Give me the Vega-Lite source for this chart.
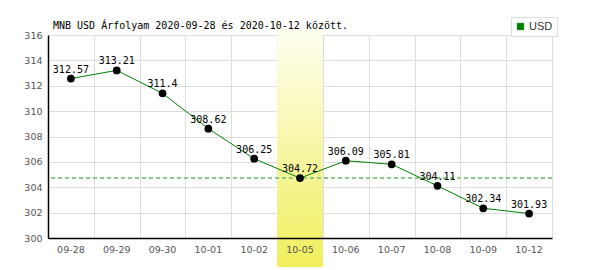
{
  "$schema": "https://vega.github.io/schema/vega-lite/v6.json",
  "width": 504,
  "height": 203,
  "autosize": "none",
  "padding": {"left": 48, "top": 35, "right": 48, "bottom": 32},
  "background": "white",
  "title": {
    "text": "MNB USD Árfolyam 2020-09-28 és 2020-10-12 között.",
    "anchor": "start",
    "frame": "group",
    "font": "DejaVu Sans Mono",
    "fontSize": 10,
    "fontWeight": "normal",
    "color": "#000000",
    "baseline": "alphabetic",
    "dx": 5,
    "offset": -22
  },
  "config": {"view": {"stroke": null}},
  "data": {
    "values": [
      {"date": "09-28", "rate": 312.57, "currency": "USD"},
      {"date": "09-29", "rate": 313.21, "currency": "USD"},
      {"date": "09-30", "rate": 311.4, "currency": "USD"},
      {"date": "10-01", "rate": 308.62, "currency": "USD"},
      {"date": "10-02", "rate": 306.25, "currency": "USD"},
      {"date": "10-05", "rate": 304.72, "currency": "USD"},
      {"date": "10-06", "rate": 306.09, "currency": "USD"},
      {"date": "10-07", "rate": 305.81, "currency": "USD"},
      {"date": "10-08", "rate": 304.11, "currency": "USD"},
      {"date": "10-09", "rate": 302.34, "currency": "USD"},
      {"date": "10-12", "rate": 301.93, "currency": "USD"}
    ]
  },
  "resolve": {"axis": {"x": "independent", "y": "independent"}},
  "layer": [
    {
      "transform": [{"filter": "datum.date == '10-05'"}],
      "mark": {
        "type": "rect",
        "clip": false,
        "color": {
          "gradient": "linear",
          "x1": 0, "y1": 0, "x2": 0, "y2": 1,
          "stops": [
            {"offset": 0, "color": "#fffff2"},
            {"offset": 1, "color": "#f0ee5c"}
          ]
        }
      },
      "encoding": {
        "x": {
          "field": "date",
          "type": "ordinal",
          "sort": null,
          "scale": {
            "domain": ["09-28", "09-29", "09-30", "10-01", "10-02", "10-05", "10-06", "10-07", "10-08", "10-09", "10-12"],
            "paddingInner": 0,
            "paddingOuter": 0
          },
          "axis": {
            "orient": "bottom",
            "title": null,
            "grid": true,
            "gridColor": "#dddddd",
            "gridWidth": 1,
            "labels": false,
            "ticks": false,
            "domain": false,
            "tickBand": "extent",
            "zindex": 0
          }
        },
        "y": {
          "datum": 316.55,
          "type": "quantitative",
          "scale": {"domain": [300, 316], "nice": false, "zero": false},
          "axis": {
            "orient": "left",
            "title": null,
            "grid": true,
            "gridColor": "#dddddd",
            "gridWidth": 1,
            "labels": false,
            "ticks": false,
            "domain": false,
            "values": [300, 302, 304, 306, 308, 310, 312, 314, 316],
            "zindex": 0
          }
        },
        "y2": {"datum": 297.71}
      }
    },
    {
      "mark": {"type": "rule", "color": "#88c888", "strokeDash": [4, 3], "strokeWidth": 1},
      "encoding": {
        "y": {"datum": 304.72, "type": "quantitative", "axis": null}
      }
    },
    {
      "encoding": {
        "x": {
          "field": "date",
          "type": "ordinal",
          "sort": null,
          "axis": {
            "orient": "bottom",
            "title": null,
            "grid": false,
            "ticks": false,
            "tickSize": 0,
            "domain": true,
            "domainColor": "#000000",
            "domainWidth": 1.5,
            "labelFont": "DejaVu Sans",
            "labelFontSize": 9.5,
            "labelColor": "#555555",
            "labelPadding": 6,
            "labelAngle": 0,
            "zindex": 1
          }
        },
        "y": {
          "field": "rate",
          "type": "quantitative",
          "axis": {
            "orient": "left",
            "title": null,
            "grid": false,
            "ticks": false,
            "tickSize": 0,
            "domain": true,
            "domainColor": "#000000",
            "domainWidth": 1.5,
            "labelFont": "DejaVu Sans",
            "labelFontSize": 9.5,
            "labelColor": "#555555",
            "labelPadding": 6,
            "values": [300, 302, 304, 306, 308, 310, 312, 314, 316],
            "zindex": 1
          }
        }
      },
      "layer": [
        {
          "mark": {"type": "line", "strokeWidth": 1},
          "encoding": {
            "color": {
              "field": "currency",
              "type": "nominal",
              "scale": {"domain": ["USD"], "range": ["#008000"]},
              "legend": {
                "orient": "none",
                "legendX": 463,
                "legendY": -18,
                "title": null,
                "padding": 4,
                "strokeColor": "#dddddd",
                "fillColor": "#ffffff",
                "symbolType": "square",
                "symbolSize": 40,
                "labelFont": "Liberation Sans",
                "labelFontSize": 11,
                "labelColor": "#333333",
                "labelOffset": 3,
                "encode": {
                  "symbols": {
                    "update": {
                      "fill": {"value": "#008000"},
                      "stroke": {"value": "#000000"},
                      "strokeWidth": {"value": 1}
                    }
                  }
                }
              }
            }
          }
        },
        {
          "mark": {"type": "point", "filled": true, "color": "#000000", "size": 60, "opacity": 1}
        },
        {
          "mark": {
            "type": "text",
            "font": "DejaVu Sans Mono",
            "fontSize": 10,
            "color": "#000000",
            "baseline": "bottom",
            "dy": -4
          },
          "encoding": {"text": {"field": "rate", "type": "nominal"}}
        }
      ]
    }
  ]
}
